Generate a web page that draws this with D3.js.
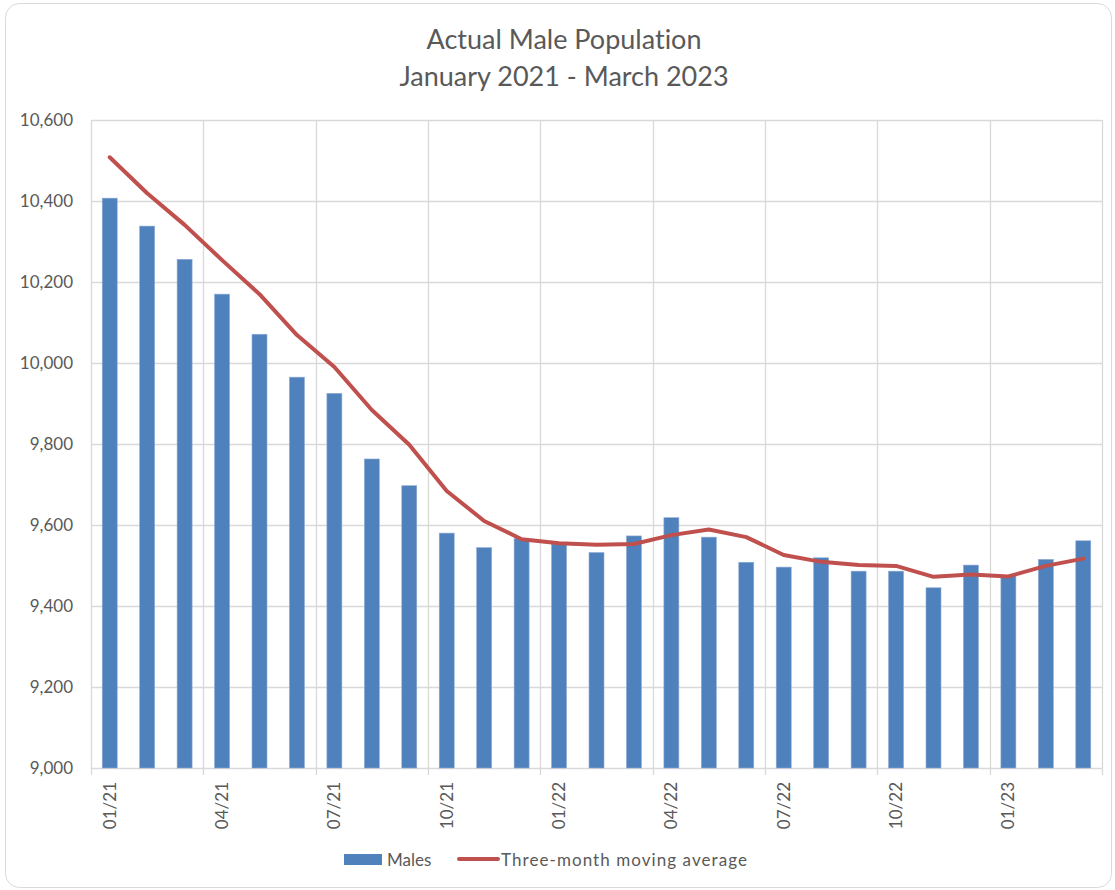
<!DOCTYPE html>
<html>
<head>
<meta charset="utf-8">
<script src="https://cdn.jsdelivr.net/npm/d3@7"></script>
<style>
  body { margin: 0; background: #fff; }
  svg text { font-family: Lato, "Open Sans", sans-serif; fill: #595959; font-variant-ligatures: none; }
</style>
</head>
<body>
<div id="chart"></div>
<script>
// month labels, Jan 2021 - Mar 2023
const months = [
    "01/21", "02/21", "03/21", "04/21", "05/21", "06/21", "07/21", "08/21", "09/21",
    "10/21", "11/21", "12/21", "01/22", "02/22", "03/22", "04/22", "05/22", "06/22",
    "07/22", "08/22", "09/22", "10/22", "11/22", "12/22", "01/23", "02/23", "03/23"
];
// actual male population (bars)
const males = [
    10407, 10338, 10256, 10170, 10071, 9965, 9925, 9763, 9697,
    9580, 9544, 9567, 9553, 9532, 9573, 9618, 9570, 9508,
    9496, 9519, 9486, 9486, 9445, 9501, 9475, 9515, 9561
];
// three-month moving average (line)
const movingAvg = [
    10508, 10419, 10341, 10254, 10170, 10069, 9990, 9884, 9798,
    9684, 9610, 9565, 9555, 9551, 9553, 9575, 9589, 9570,
    9526, 9509, 9501, 9499, 9472, 9478, 9473, 9499, 9517
];
const yTicks = [9000, 9200, 9400, 9600, 9800, 10000, 10200, 10400, 10600];
const titleLines = ["Actual Male Population", "January 2021 - March 2023"];
const legendItems = ["Males", "Three-month moving average"];

const config = {
    width: 1115,
    height: 890,
    margin: {top: 120, right: 13, bottom: 122, left: 91},
    barColor: '#4f81bd',
    lineColor: '#c0504d',
    gridColor: '#d9d9d9'
};

const svg = d3.select('#chart').append('svg')
    .attr('width', config.width)
    .attr('height', config.height);

// chart border
svg.append('rect')
    .attr('x', 5.5).attr('y', 3.5)
    .attr('width', 1106).attr('height', 884)
    .attr('rx', 14)
    .attr('fill', '#fff')
    .attr('stroke', config.gridColor)
    .attr('stroke-width', 1);

// title
svg.append('text')
    .attr('text-anchor', 'middle')
    .style('font-size', '27px')
    .selectAll('tspan')
    .data(titleLines)
    .join('tspan')
    .attr('x', 564)
    .attr('y', (d, i) => 49 + i * 37)
    .text(d => d);

const plotLeft = config.margin.left;
const plotRight = config.width - config.margin.right;
const plotTop = config.margin.top;
const plotBottom = config.height - config.margin.bottom;

const x = d3.scaleBand()
    .domain(months)
    .range([plotLeft, plotRight])
    .padding(0);

const y = d3.scaleLinear()
    .domain([9000, 10600])
    .range([plotBottom, plotTop]);

const g = svg.append('g');

// horizontal gridlines
g.append('g')
    .selectAll('line')
    .data(yTicks)
    .join('line')
    .attr('x1', plotLeft).attr('x2', plotRight)
    .attr('y1', d => Math.round(y(d)) + 0.5)
    .attr('y2', d => Math.round(y(d)) + 0.5)
    .attr('stroke', config.gridColor)
    .attr('stroke-width', 1.3);

// vertical gridlines every quarter, plus right edge
const quarterMonths = months.filter((d, i) => i % 3 === 0);
const vLines = quarterMonths.map(m => x(m)).concat([plotRight]);
g.append('g')
    .selectAll('line')
    .data(vLines)
    .join('line')
    .attr('x1', d => Math.round(d) + 0.5).attr('x2', d => Math.round(d) + 0.5)
    .attr('y1', plotTop)
    .attr('y2', plotBottom + 7)
    .attr('stroke', config.gridColor)
    .attr('stroke-width', 1.3);

// y axis labels
const yAxis = d3.axisLeft(y)
    .tickValues(yTicks)
    .tickFormat(d3.format(','))
    .tickSize(0)
    .tickPadding(18);

svg.append('g')
    .attr('transform', `translate(${plotLeft},0)`)
    .call(yAxis)
    .call(a => a.select('.domain').remove())
    .selectAll('text')
    .style('font-size', '17px')
    .style('font-family', 'Lato, sans-serif')
    .attr('fill', '#595959');

// bars
const barWidth = x.bandwidth() * 0.4;
g.append('g')
    .selectAll('rect')
    .data(months.map((m, i) => ({month: m, value: males[i]})))
    .join('rect')
    .attr('x', d => x(d.month) + (x.bandwidth() - barWidth) / 2)
    .attr('y', d => y(d.value))
    .attr('width', barWidth)
    .attr('height', d => y(9000) - y(d.value))
    .attr('fill', config.barColor)
    .attr('stroke', '#8eaad3')
    .attr('stroke-width', 0.6);

// moving average line
const line = d3.line()
    .x((d, i) => x(months[i]) + x.bandwidth() / 2)
    .y(d => y(d));

g.append('path')
    .datum(movingAvg)
    .attr('d', line)
    .attr('fill', 'none')
    .attr('stroke', config.lineColor)
    .attr('stroke-width', 4)
    .attr('stroke-linejoin', 'round')
    .attr('stroke-linecap', 'round');

// x labels, rotated
svg.append('g')
    .selectAll('text')
    .data(quarterMonths)
    .join('text')
    .attr('transform', d => `translate(${x(d) + x.bandwidth() / 2 + 6},${plotBottom + 14}) rotate(-90)`)
    .attr('text-anchor', 'end')
    .style('font-size', '17px')
    .text(d => d);

// legend
const legend = svg.append('g');
legend.append('rect')
    .attr('x', 344).attr('y', 854)
    .attr('width', 38).attr('height', 11)
    .attr('fill', config.barColor);
legend.append('text')
    .attr('x', 387).attr('y', 866)
    .style('font-size', '17px')
    .text(legendItems[0]);
legend.append('line')
    .attr('x1', 459).attr('x2', 498)
    .attr('y1', 859).attr('y2', 859)
    .attr('stroke', config.lineColor)
    .attr('stroke-width', 4)
    .attr('stroke-linecap', 'round');
legend.append('text')
    .attr('x', 501).attr('y', 866)
    .style('font-size', '17px')
    .attr('textLength', 246)
    .attr('lengthAdjust', 'spacing')
    .text(legendItems[1]);
</script>
</body>
</html>
